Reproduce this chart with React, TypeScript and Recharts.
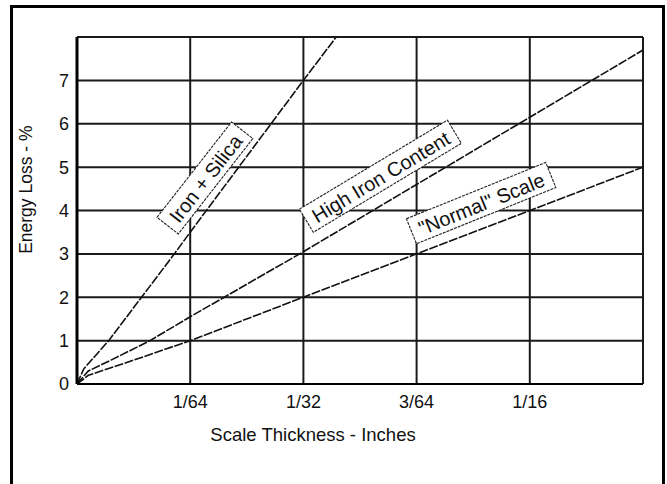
import { LineChart, Line, XAxis, YAxis, CartesianGrid, ReferenceDot, Label } from 'recharts';

// x in units of 1/64 inch, y in % energy loss
const xTicks = [0, 1, 2, 3, 4, 5];
const xTickLabels = ['', '1/64', '1/32', '3/64', '1/16', ''];
const yTicks = [0, 1, 2, 3, 4, 5, 6, 7, 8];
const yTickLabels = ['0', '1', '2', '3', '4', '5', '6', '7', ''];

const ironSilicaX = [0, 0.06, 0.28, 0.57, 0.86, 1, 1.5, 2, 2.29];
const ironSilicaY = [0, 0.35, 1, 2, 3, 3.5, 5.25, 7, 8];

const highIronX = [0, 0.1, 0.3, 0.645, 1, 2, 3, 4, 5];
const highIronY = [0, 0.3, 0.55, 1, 1.55, 3.05, 4.6, 6.15, 7.7];

const normalX = [0, 0.1, 0.5, 1, 2, 3, 4, 5];
const normalY = [0, 0.2, 0.55, 1, 2, 3, 4, 5];

const tagNames = ['Iron + Silica', 'High Iron Content', '"Normal" Scale'];
const tagX = [1.13, 2.68, 3.57];
const tagY = [4.75, 4.79, 4.17];
const tagAngle = [-52, -31, -22];

const toPoints = (xs: number[], ys: number[]) => xs.map((x, i) => ({ x, y: ys[i] }));

const font = '"Liberation Sans", Arial, sans-serif';
const tagFontSize = 20;

const measure = (text: string) => {
  const ctx = document.createElement('canvas').getContext('2d');
  if (!ctx) return text.length * 10;
  ctx.font = `${tagFontSize}px "Liberation Sans", Arial, sans-serif`;
  return ctx.measureText(text).width;
};

const makeTag = (text: string, angle: number) => (props: any) => {
  const { cx, cy } = props;
  const w = measure(text) + 16;
  const h = 27;
  return (
    <g transform={`translate(${cx},${cy}) rotate(${angle})`}>
      <rect x={-w / 2} y={-h / 2} width={w} height={h} fill="#fff" stroke="#222" strokeWidth={1.1} strokeDasharray="3 1" />
      <text x={0} y={1} textAnchor="middle" dominantBaseline="central" fontSize={tagFontSize} fontFamily={font} fill="#111">
        {text}
      </text>
    </g>
  );
};

export default function App() {
  const series = [
    toPoints(ironSilicaX, ironSilicaY),
    toPoints(highIronX, highIronY),
    toPoints(normalX, normalY),
  ];

  return (
    <div style={{ position: 'absolute', left: 0, top: 0, width: 667, height: 484, background: '#fff', overflow: 'hidden' }}>
      <div
        style={{
          position: 'absolute',
          left: 10,
          top: 5,
          width: 655,
          height: 479,
          boxSizing: 'border-box',
          border: '3px solid #000',
          borderBottom: 'none',
        }}
      />
      <div style={{ position: 'absolute', left: 0, top: 0 }}>
        <LineChart width={667} height={484} margin={{ top: 37, right: 24, bottom: 40, left: 17 }}>
          <CartesianGrid stroke="#1a1a1a" strokeWidth={2} horizontalValues={yTicks} verticalValues={xTicks} />
          <XAxis
            dataKey="x"
            type="number"
            domain={[0, 5]}
            ticks={xTicks}
            tickFormatter={(v: number) => xTickLabels[xTicks.indexOf(v)]}
            height={60}
            tickSize={0}
            tickMargin={11}
            axisLine={{ stroke: '#000', strokeWidth: 2 }}
            tick={{ fill: '#111', fontSize: 18, fontFamily: font }}
            allowDataOverflow
          >
            <Label
              content={({ viewBox }: any) => (
                <text
                  x={viewBox.x + viewBox.width * 0.417}
                  y={viewBox.y + 57}
                  textAnchor="middle"
                  fontSize={18.5}
                  fontFamily={font}
                  fill="#111"
                >
                  Scale Thickness - Inches
                </text>
              )}
            />
          </XAxis>
          <YAxis
            dataKey="y"
            type="number"
            domain={[0, 8]}
            ticks={yTicks}
            tickFormatter={(v: number) => yTickLabels[yTicks.indexOf(v)]}
            width={60}
            tickSize={0}
            tickMargin={8}
            axisLine={{ stroke: '#000', strokeWidth: 3 }}
            tick={{ fill: '#111', fontSize: 18, fontFamily: font }}
            allowDataOverflow
          >
            <Label
              content={({ viewBox }: any) => {
                const cx = 26;
                const cy = viewBox.y + viewBox.height * 0.44;
                return (
                  <text
                    x={cx}
                    y={cy}
                    textAnchor="middle"
                    dominantBaseline="central"
                    transform={`rotate(-90 ${cx} ${cy})`}
                    fontSize={17.5}
                    fontFamily={font}
                    fill="#111"
                  >
                    Energy Loss - %
                  </text>
                );
              }}
            />
          </YAxis>
          {series.map((d, i) => (
            <Line
              key={i}
              data={d}
              dataKey="y"
              type="linear"
              stroke="#111"
              strokeWidth={1.6}
              strokeDasharray="9 1.5"
              dot={false}
              isAnimationActive={false}
            />
          ))}
          {tagNames.map((name, i) => (
            <ReferenceDot
              key={name}
              x={tagX[i]}
              y={tagY[i]}
              r={1}
              ifOverflow="visible"
              shape={makeTag(name, tagAngle[i])}
            />
          ))}
        </LineChart>
      </div>
    </div>
  );
}
